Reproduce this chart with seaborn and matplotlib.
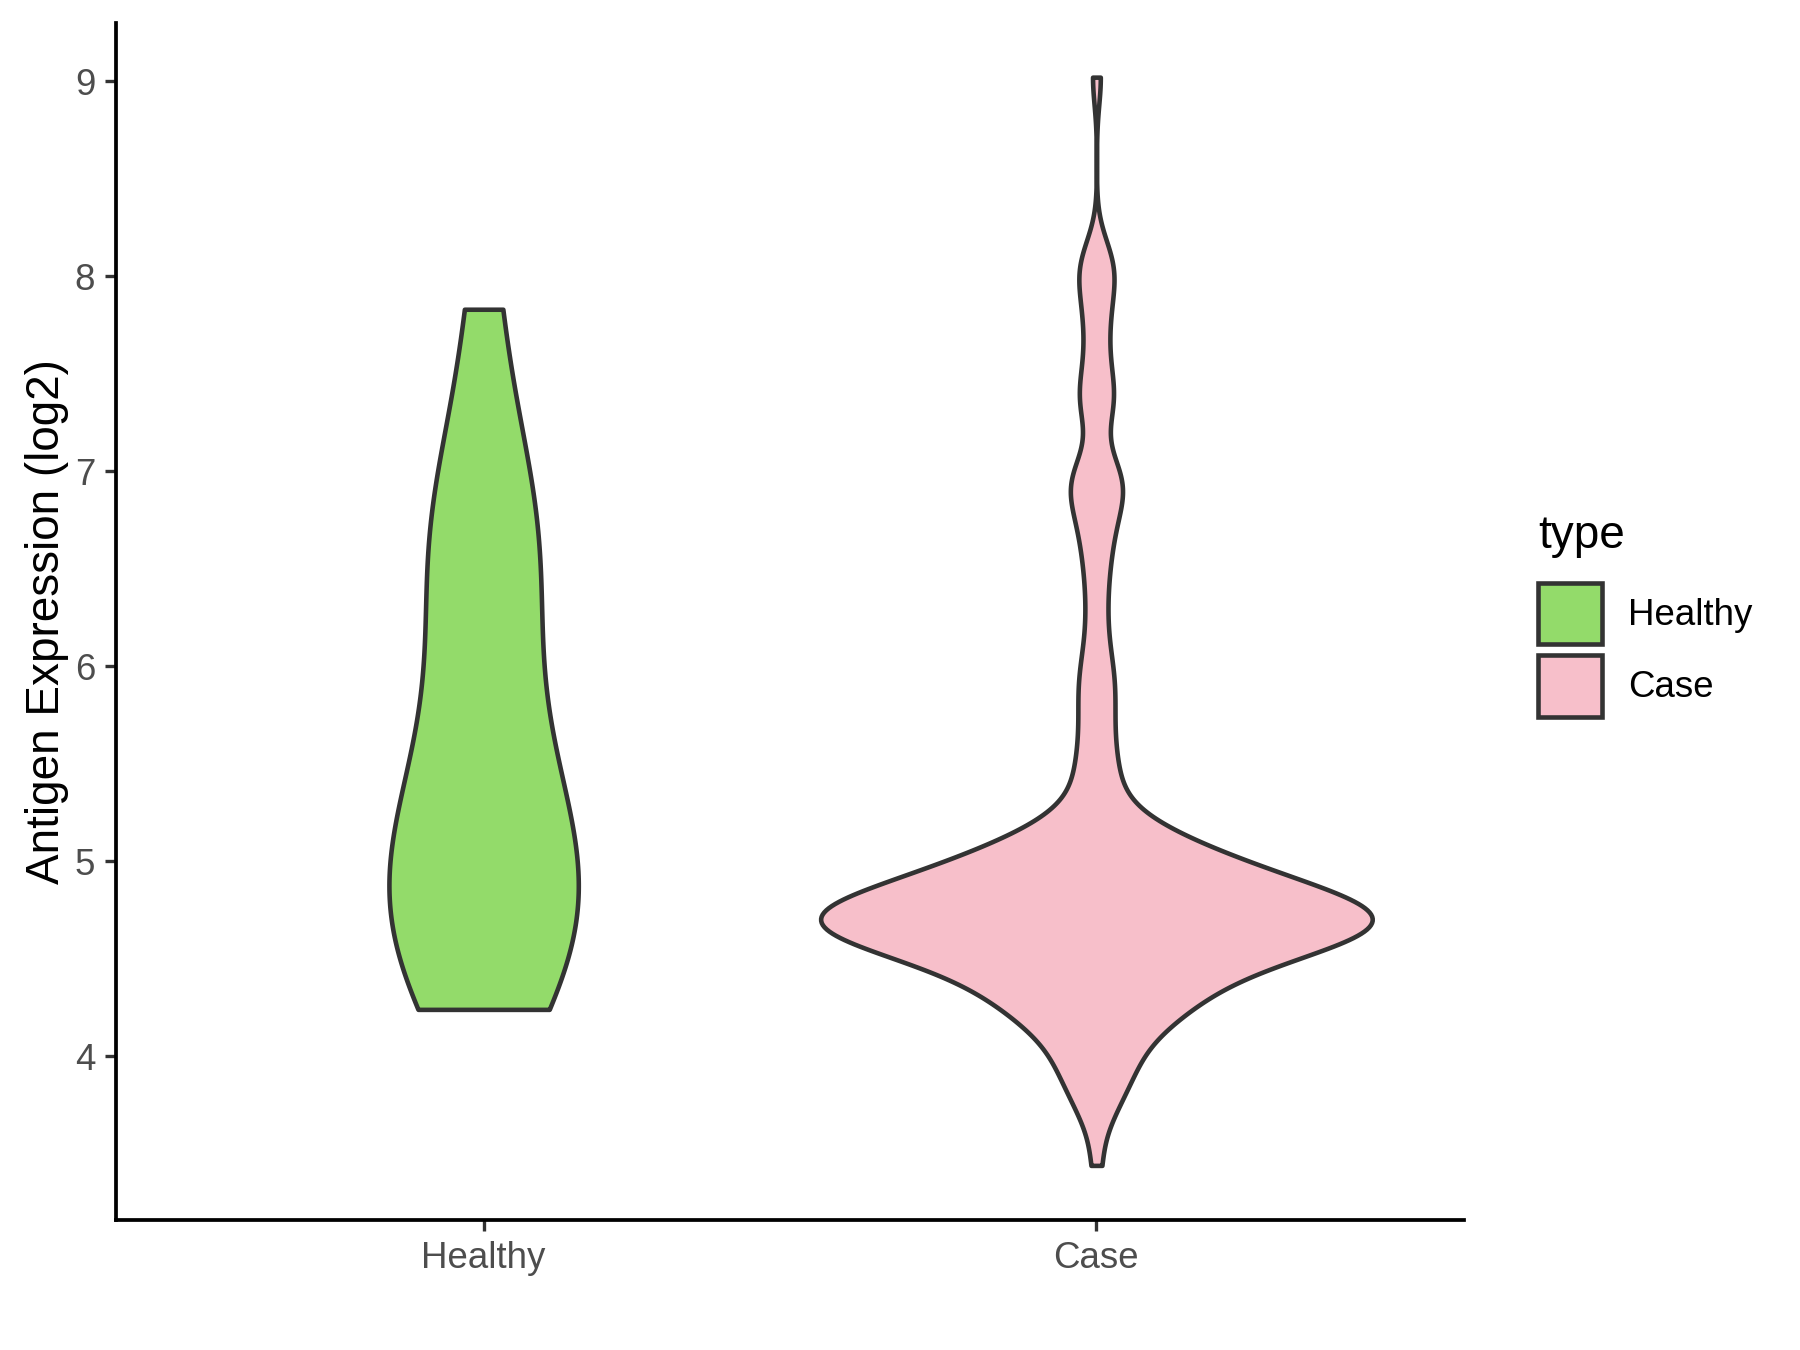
import numpy as np
import pandas as pd
import seaborn as sns
import matplotlib.pyplot as plt
from matplotlib.patches import Patch

# =========================
# Data
# =========================
groups = ["Healthy", "Case"]
colors = ["#93DB6A", "#F7BFCA"]

healthy_values = [4.24, 4.34, 4.50, 4.62, 4.74, 4.86, 4.98, 5.12, 5.28,
                  5.48, 5.74, 6.18, 6.42, 6.62, 6.85, 7.05, 7.83]

# dense core of the Case group, binned (level, number of samples)
case_core_levels = [4.0, 4.1, 4.2, 4.3, 4.4, 4.5, 4.6, 4.7, 4.8, 4.9, 5.0, 5.1, 5.2]
case_core_counts = [1, 3, 7, 8, 9, 13, 21, 27, 20, 14, 11, 7, 4]

case_low_tail = [3.44, 3.68, 3.74, 3.79, 3.84, 3.88, 3.92, 3.95, 3.98, 4.02]
case_high_tail = [5.33, 5.38, 5.43, 5.48, 5.55, 5.63, 5.71, 5.78,
                  5.86, 5.93, 5.98, 6.08, 6.20, 6.33, 6.45, 6.56,
                  6.64, 6.72, 6.79, 6.85, 6.90, 6.93, 6.96, 7.00, 7.03,
                  7.28, 7.34, 7.38, 7.44, 7.55, 7.66, 7.78, 7.86,
                  7.97, 8.02, 8.07, 8.12, 9.02]

case_values = (case_low_tail
               + list(np.repeat(case_core_levels, case_core_counts))
               + case_high_tail)

df = pd.DataFrame({
    "type": ["Healthy"] * len(healthy_values) + ["Case"] * len(case_values),
    "value": healthy_values + case_values,
})


# R's bw.nrd0, per group (same as ggplot2's geom_violin)
def nrd0(kde):
    x = kde.dataset.ravel()
    sd = np.std(x, ddof=1)
    q75, q25 = np.percentile(x, [75, 25])
    lo = min(sd, (q75 - q25) / 1.34)
    return 0.9 * lo * len(x) ** -0.2 / sd


# =========================
# Plot
# =========================
plt.rcParams["font.family"] = ["Liberation Sans", "DejaVu Sans"]

fig = plt.figure(figsize=(6, 4.5), dpi=300)
ax = fig.add_axes([0.0644, 0.0963, 0.749, 0.887])

# no hue here so that both violins share one area scale (like ggplot)
sns.violinplot(data=df, x="type", y="value", order=groups,
               color="white", saturation=1, cut=0, inner=None, width=0.9,
               bw_method=nrd0, gridsize=512, density_norm="area",
               linewidth=1.1, linecolor="#333333", ax=ax)
for coll, c in zip(ax.collections, colors):
    coll.set_facecolor(c)

ax.set_xlim(-0.6, 1.6)
ax.set_ylim(3.16, 9.30)
ax.set_yticks([4, 5, 6, 7, 8, 9])
ax.set_xlabel("")
ax.set_ylabel("Antigen Expression (log2)", fontsize=11, color="black", labelpad=1.5)
ax.tick_params(axis="both", labelsize=8.8, labelcolor="#4D4D4D",
               color="#333333", length=2.75, width=0.8, pad=2.2)

for side in ["top", "right"]:
    ax.spines[side].set_visible(False)
for side in ["left", "bottom"]:
    ax.spines[side].set_linewidth(0.9)
    ax.spines[side].set_color("black")

handles = [Patch(facecolor=c, edgecolor="#333333", linewidth=1.1, label=g)
           for g, c in zip(groups, colors)]
leg = ax.legend(handles=handles, loc="center left", bbox_to_anchor=(1.055, 0.505),
                frameon=False, title="type", fontsize=8.8, title_fontsize=11,
                handlelength=1.75, handleheight=2.2, labelspacing=0.3,
                handletextpad=0.7, borderaxespad=0, borderpad=0)
leg._legend_box.align = "left"
leg._legend_box.sep = 6

plt.savefig("out.png", dpi=300)
